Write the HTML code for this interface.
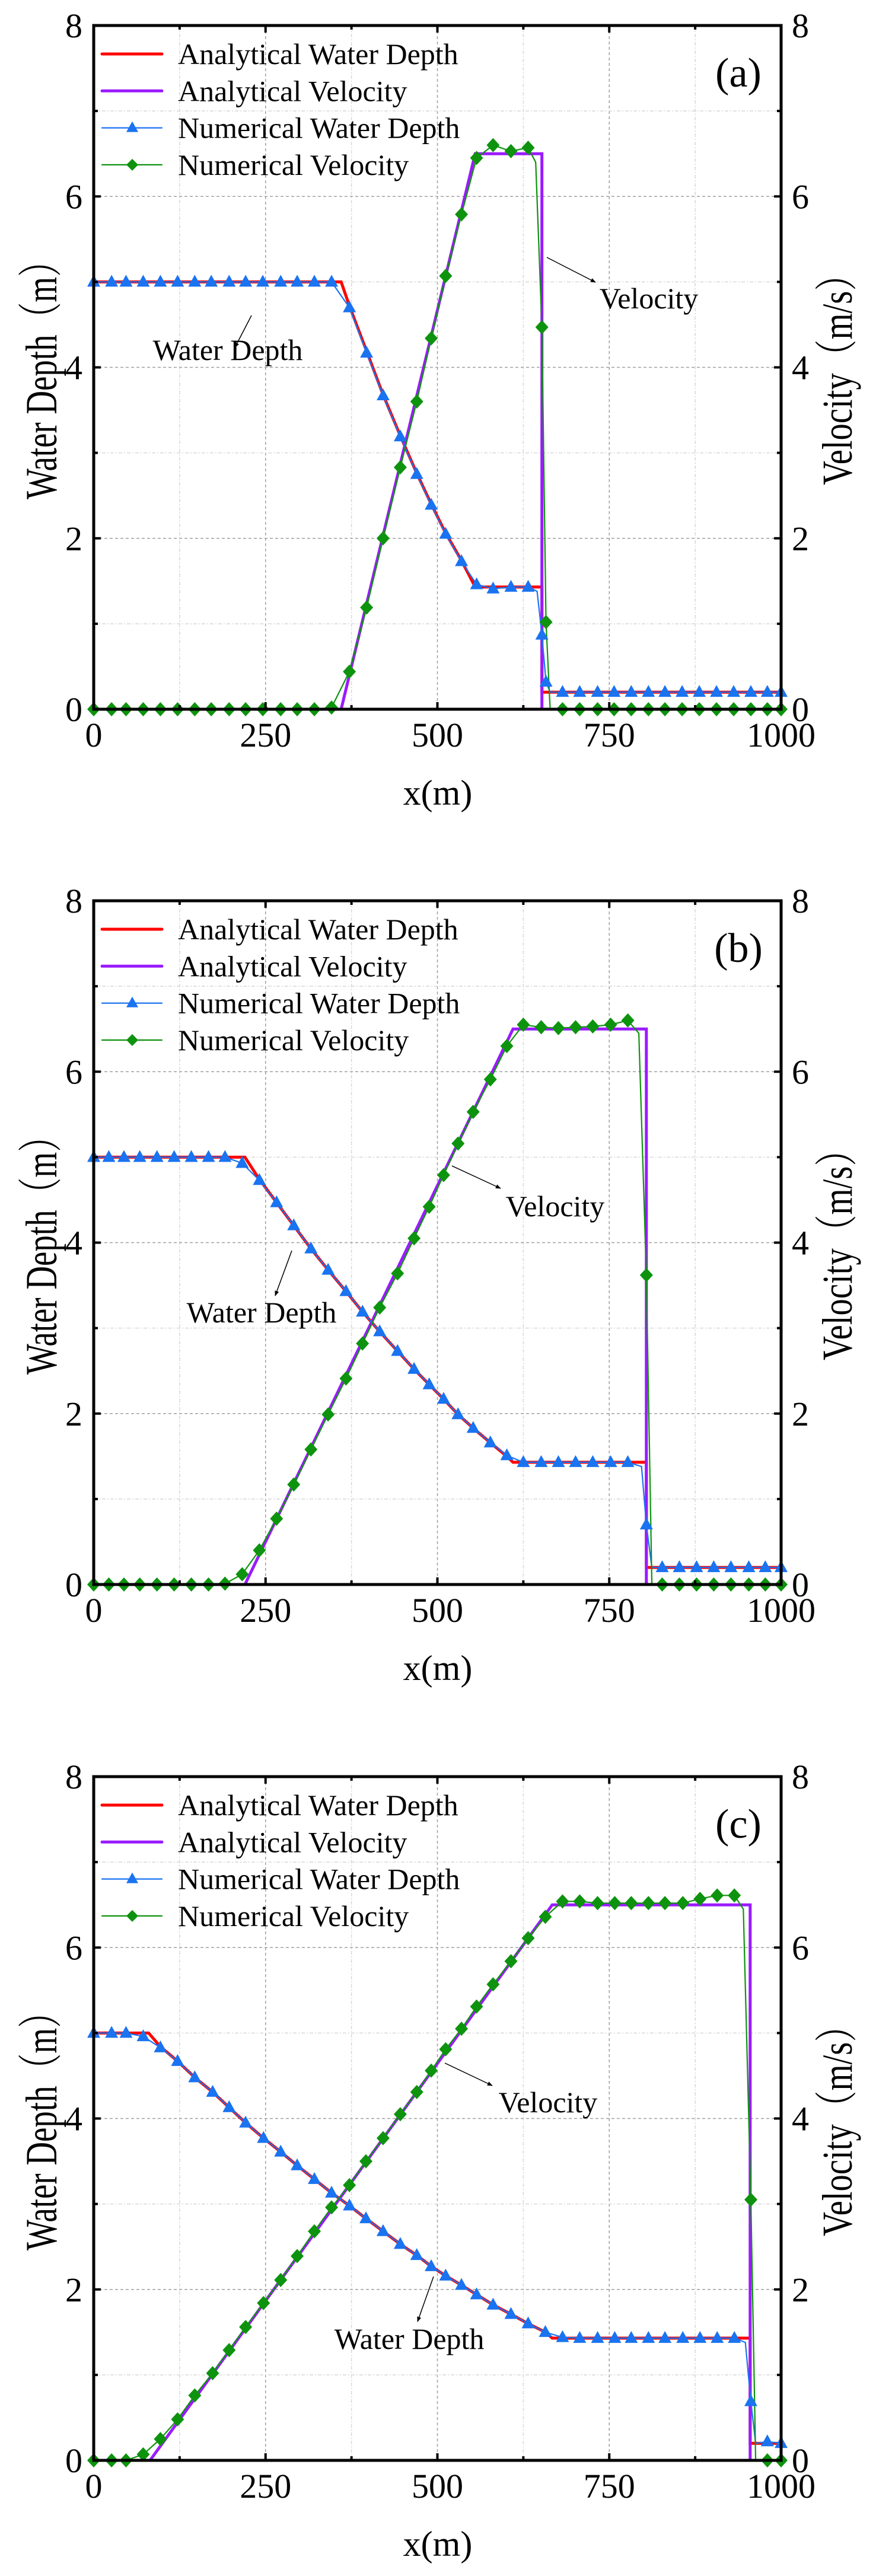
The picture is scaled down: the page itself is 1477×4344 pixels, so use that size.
<!DOCTYPE html>
<html><head><meta charset="utf-8"><style>
html,body{margin:0;padding:0;background:#fff;}
svg{display:block;}
text{font-family:"Liberation Serif","Noto Serif CJK SC",serif;fill:#000;}
</style></head><body>
<svg id="fig" width="1477" height="4344" viewBox="0 0 1477 4344" xmlns="http://www.w3.org/2000/svg">
<defs>
<marker id="ah" viewBox="0 0 10 10" refX="9" refY="5" markerWidth="9" markerHeight="9" orient="auto-start-reverse" markerUnits="userSpaceOnUse"><path d="M0,1 L10,5 L0,9 z" fill="#000"/></marker>
</defs>
</svg>
<script>
// ---- shared axis ticks ----
const xTicks = [0, 250, 500, 750, 1000];
const yTicks = [0, 2, 4, 6, 8];

// ---- panel (a) ----
const aAnaDepthX = [0, 360, 372, 397, 421, 446, 470, 491, 512, 535, 555, 652, 652, 1000];
const aAnaDepthY = [5, 5, 4.72, 4.19, 3.68, 3.2, 2.76, 2.4, 2.06, 1.74, 1.43, 1.43, 0.2, 0.2];
const aAnaVelX = [0, 360, 555, 652, 652, 1000];
const aAnaVelY = [0, 0, 6.5, 6.5, 0, 0];
const aNumX = [0,26,47,72,97,122,147,171,197,221,246,272,296,321,346,372,397,421,446,470,491,512,535,557,581,607,632,652,658,682,707,733,757,782,807,831,856,881,906,931,956,980,1000];
const aNumDepth = [5,5,5,5,5,5,5,5,5,5,5,5,5,5,5,4.70,4.17,3.67,3.19,2.75,2.39,2.05,1.73,1.46,1.41,1.43,1.43,0.87,0.32,0.2,0.2,0.2,0.2,0.2,0.2,0.2,0.2,0.2,0.2,0.2,0.2,0.2,0.2];
const aNumVel = [0,0,0,0,0,0,0,0,0,0,0,0,0,0,0.02,0.44,1.19,2.0,2.83,3.6,4.34,5.07,5.79,6.45,6.6,6.53,6.57,4.47,1.02,0,0,0,0,0,0,0,0,0,0,0,0,0,0];
const aDepthCurveX = [645, 664];
const aDepthCurveY = [1.38, 0.2];
const aVelCurveX = [643, 664];
const aVelCurveY = [6.4, 0];

// ---- panel (b) ----
const bAnaDepthX = [0, 220, 241, 266, 291, 316, 341, 367, 391, 416, 442, 466, 488, 509, 530, 552, 577, 601, 610, 804, 804, 1000];
const bAnaDepthY = [5, 5, 4.74, 4.47, 4.2, 3.93, 3.68, 3.43, 3.19, 2.96, 2.73, 2.52, 2.34, 2.17, 1.99, 1.83, 1.66, 1.5, 1.43, 1.43, 0.2, 0.2];
const bAnaVelX = [0, 220, 610, 804, 804, 1000];
const bAnaVelY = [0, 0, 6.5, 6.5, 0, 0];
const bNumX = [0,22,44,67,92,117,142,167,191,216,241,266,291,316,341,367,391,416,442,466,488,509,530,552,577,601,625,651,676,701,726,752,777,804,827,852,877,902,927,953,977,1000];
const bNumDepth = [5,5,5,5,5,5,5,5,5,4.93,4.73,4.47,4.2,3.93,3.68,3.43,3.19,2.96,2.73,2.52,2.34,2.17,1.99,1.83,1.66,1.51,1.43,1.43,1.43,1.43,1.43,1.43,1.43,0.70,0.2,0.2,0.2,0.2,0.2,0.2,0.2,0.2];
const bNumVel = [0,0,0,0,0,0,0,0,0.01,0.12,0.4,0.77,1.17,1.58,1.99,2.41,2.82,3.24,3.64,4.05,4.42,4.79,5.16,5.53,5.91,6.3,6.55,6.52,6.51,6.52,6.53,6.55,6.6,3.62,0,0,0,0,0,0,0,0];
const bDepthCurveX = [797, 812];
const bDepthCurveY = [1.38, 0.2];
const bVelCurveX = [793, 812];
const bVelCurveY = [6.45, 0];

// ---- panel (c) ----
const cAnaDepthX = [0, 80, 97, 122, 147, 173, 197, 221, 247, 272, 296, 321, 346, 372, 396, 421, 446, 470, 491, 512, 535, 557, 581, 607, 632, 657, 667, 955, 955, 1000];
const cAnaDepthY = [5, 5, 4.84, 4.67, 4.48, 4.31, 4.13, 3.95, 3.77, 3.61, 3.45, 3.29, 3.13, 2.98, 2.83, 2.68, 2.53, 2.4, 2.27, 2.16, 2.05, 1.94, 1.82, 1.71, 1.6, 1.5, 1.43, 1.43, 0.2, 0.2];
const cAnaVelX = [0, 82, 667, 955, 955, 1000];
const cAnaVelY = [0, 0, 6.5, 6.5, 0, 0];
const cNumX = [0,26,47,72,97,122,147,173,197,221,247,272,296,321,346,372,396,421,446,470,491,512,535,557,581,607,632,657,682,707,733,758,782,807,831,857,882,907,932,956,980,1000];
const cNumDepth = [5,5,5,4.96,4.83,4.67,4.48,4.31,4.13,3.95,3.77,3.61,3.45,3.29,3.13,2.98,2.83,2.68,2.53,2.4,2.27,2.16,2.05,1.94,1.82,1.71,1.6,1.5,1.44,1.43,1.43,1.43,1.43,1.43,1.43,1.43,1.43,1.43,1.43,0.69,0.22,0.2];
const cNumVel = [0,0,0,0.07,0.25,0.48,0.76,1.02,1.29,1.56,1.84,2.11,2.39,2.68,2.96,3.22,3.5,3.77,4.05,4.31,4.56,4.81,5.05,5.31,5.57,5.84,6.11,6.36,6.54,6.54,6.52,6.52,6.52,6.52,6.52,6.52,6.57,6.61,6.61,3.05,0,0];
const cDepthCurveX = [948, 963];
const cDepthCurveY = [1.38, 0.2];
const cVelCurveX = [945, 963];
const cVelCurveY = [6.45, 0];

const legendLabels = ["Analytical Water Depth","Analytical Velocity","Numerical Water Depth","Numerical Velocity"];

const NS = "http://www.w3.org/2000/svg";
const svg = document.getElementById("fig");
const PL = 158, PW = 1159, PH = 1153;
const RED = "#ff0000", PUR = "#9a1bff", BLUE = "#1a73f0", GREEN = "#0e930e";

function mk(tag, attrs, parent) {
  const e = document.createElementNS(NS, tag);
  for (const k in attrs) e.setAttribute(k, attrs[k]);
  (parent || svg).appendChild(e);
  return e;
}

function merge(xs, ys, ex, ey) {
  const arr = xs.map((x, i) => [x, ys[i], 0]);
  ex.forEach((x, i) => arr.push([x, ey[i], 1]));
  arr.sort((a, b) => a[0] - b[0] || a[2] - b[2]);
  return arr;
}

function panel(cfg) {
  const top = cfg.top;
  const g = mk("g", {});
  
  
  const sx = v => PL + v / 1000 * PW;
  const sy = v => top + PH - v / 8 * PH;

  // grid
  const grid = mk("g", {}, g);
  
  
  for (let v = 125; v < 1000; v += 125) {
    const major = v % 250 === 0;
    mk("line", {x1: sx(v), x2: sx(v), y1: top, y2: top + PH, stroke: major ? "#a0a0a0" : "#d8d8d8", "stroke-width": 1.5, "stroke-dasharray": major ? "5,4" : "6,3,2,3"}, grid);
  }
  for (let v = 1; v < 8; v++) {
    const major = v % 2 === 0;
    mk("line", {x1: PL, x2: PL + PW, y1: sy(v), y2: sy(v), stroke: major ? "#a0a0a0" : "#d8d8d8", "stroke-width": 1.5, "stroke-dasharray": major ? "5,4" : "6,3,2,3"}, grid);
  }

  // series
  const pts = (xs, ys) => xs.map((x, i) => sx(x).toFixed(1) + "," + sy(ys[i]).toFixed(1)).join(" ");
  const ptsM = arr => arr.map(p => sx(p[0]).toFixed(1) + "," + sy(p[1]).toFixed(1)).join(" ");
  const ad = mk("polyline", {points: pts(cfg.adx, cfg.ady), fill: "none", stroke: RED, "stroke-width": 5}, g);
  
  
  const av = mk("polyline", {points: pts(cfg.avx, cfg.avy), fill: "none", stroke: PUR, "stroke-width": 5}, g);
  
  
  const nd = mk("polyline", {points: ptsM(merge(cfg.nx, cfg.nd, cfg.dcx, cfg.dcy)), fill: "none", stroke: BLUE, "stroke-width": 2.2}, g);
  
  
  const nv = mk("polyline", {points: ptsM(merge(cfg.nx, cfg.nv, cfg.vcx, cfg.vcy)), fill: "none", stroke: GREEN, "stroke-width": 2.2}, g);
  
  
  cfg.nx.forEach((x, i) => {
    const cx = sx(x), cy = sy(cfg.nd[i]);
    const t = mk("polygon", {points: `${cx},${cy - 12} ${cx - 11},${cy + 8} ${cx + 11},${cy + 8}`, fill: BLUE}, g);
    
    
  });
  cfg.nx.forEach((x, i) => {
    const cx = sx(x), cy = sy(cfg.nv[i]);
    const d = mk("polygon", {points: `${cx},${cy - 12} ${cx + 11},${cy} ${cx},${cy + 12} ${cx - 11},${cy}`, fill: GREEN}, g);
    
    
  });

  // frame and ticks
  const fr = mk("rect", {x: PL, y: top, width: PW, height: PH, fill: "none", stroke: "#000", "stroke-width": 5}, g);
  
  
  for (let v = 0; v <= 1000; v += 125) {
    const L = v % 250 === 0 ? 12 : 7;
    mk("line", {x1: sx(v), x2: sx(v), y1: top + PH, y2: top + PH - L, stroke: "#000", "stroke-width": 4}, g);
    mk("line", {x1: sx(v), x2: sx(v), y1: top, y2: top + L, stroke: "#000", "stroke-width": 4}, g);
  }
  for (let v = 0; v <= 8; v++) {
    const L = v % 2 === 0 ? 12 : 7;
    mk("line", {x1: PL, x2: PL + L, y1: sy(v), y2: sy(v), stroke: "#000", "stroke-width": 4}, g);
    mk("line", {x1: PL + PW, x2: PL + PW - L, y1: sy(v), y2: sy(v), stroke: "#000", "stroke-width": 4}, g);
  }
  xTicks.forEach(v => {
    const t = mk("text", {x: sx(v), y: top + PH + 63, "font-size": 58, "text-anchor": "middle"}, g);
    t.textContent = v;
    
    
  });
  yTicks.forEach(v => {
    const t = mk("text", {x: 139, y: sy(v) + 20, "font-size": 58, "text-anchor": "end"}, g);
    t.textContent = v;
    
    
    const r = mk("text", {x: 1335, y: sy(v) + 20, "font-size": 58}, g);
    r.textContent = v;
    
    
  });

  // axis titles
  const xl = mk("text", {x: 738, y: top + PH + 161, "font-size": 60, "text-anchor": "middle"}, g);
  xl.textContent = "x(m)";
  
  
  const ylg = mk("g", {transform: `translate(95,${top + 584}) rotate(-90) scale(1,1.3)`}, g);
  const yl = mk("text", {x: 0, y: 0, "font-size": 58, "text-anchor": "middle", textLength: 430, lengthAdjust: "spacingAndGlyphs"}, ylg);
  yl.textContent = "Water Depth（m）";
  
  
  const yrg = mk("g", {transform: `translate(1436,${top + 583}) rotate(-90) scale(1,1.25)`}, g);
  const yr = mk("text", {x: 0, y: 0, "font-size": 58, "text-anchor": "middle", textLength: 384, lengthAdjust: "spacingAndGlyphs"}, yrg);
  yr.textContent = "Velocity（m/s）";
  
  

  // panel label
  const pl = mk("text", {x: 1245, y: top + 103, "font-size": 70, "text-anchor": "middle"}, g);
  pl.textContent = "(" + cfg.tag + ")";
  
  

  // legend
  const lg = mk("g", {}, g);
  
  
  const cols = [RED, PUR, BLUE, GREEN];
  legendLabels.forEach((lab, i) => {
    const y = top + 48 + i * 62.3;
    const e = mk("g", {}, lg);
    
    
    mk("line", {x1: 172, x2: 273, y1: y, y2: y, stroke: cols[i], "stroke-width": i < 2 ? 5 : 2.2, "stroke-linecap": "round"}, e);
    if (i === 2) mk("polygon", {points: `223,${y - 11} 213,${y + 7} 233,${y + 7}`, fill: BLUE}, e);
    if (i === 3) mk("polygon", {points: `223,${y - 10} 233,${y} 223,${y + 10} 213,${y}`, fill: GREEN}, e);
    const t = mk("text", {x: 300, y: y + 17, "font-size": 50}, e);
    t.textContent = lab;
  });

  // annotations
  const an = cfg.ann;
  const wl = mk("line", {x1: an.w[0], y1: top + an.w[1], x2: an.w[2], y2: top + an.w[3], stroke: "#000", "stroke-width": 1.5, "marker-end": "url(#ah)"}, g);
  
  
  const wt = mk("text", {x: an.wt[0], y: top + an.wt[1], "font-size": 50, "text-anchor": "middle"}, g);
  wt.textContent = "Water Depth";
  
  
  const vl = mk("line", {x1: an.v[0], y1: top + an.v[1], x2: an.v[2], y2: top + an.v[3], stroke: "#000", "stroke-width": 1.5, "marker-end": "url(#ah)"}, g);
  
  
  const vt = mk("text", {x: an.vt[0], y: top + an.vt[1], "font-size": 50, "text-anchor": "middle"}, g);
  vt.textContent = "Velocity";
  
  
}

panel({tag: "a", top: 43, adx: aAnaDepthX, ady: aAnaDepthY, avx: aAnaVelX, avy: aAnaVelY, nx: aNumX, nd: aNumDepth, nv: aNumVel,
  dcx: aDepthCurveX, dcy: aDepthCurveY, vcx: aVelCurveX, vcy: aVelCurveY,
  ann: {w: [424, 489, 396, 543], wt: [384, 564], v: [922, 391, 1004, 433], vt: [1094, 477]}});
panel({tag: "b", top: 1519, adx: bAnaDepthX, ady: bAnaDepthY, avx: bAnaVelX, avy: bAnaVelY, nx: bNumX, nd: bNumDepth, nv: bNumVel,
  dcx: bDepthCurveX, dcy: bDepthCurveY, vcx: bVelCurveX, vcy: bVelCurveY,
  ann: {w: [492, 590, 464, 666], wt: [441, 711], v: [762, 447, 844, 485], vt: [936, 532]}});
panel({tag: "c", top: 2996, adx: cAnaDepthX, ady: cAnaDepthY, avx: cAnaVelX, avy: cAnaVelY, nx: cNumX, nd: cNumDepth, nv: cNumVel,
  dcx: cDepthCurveX, dcy: cDepthCurveY, vcx: cVelCurveX, vcy: cVelCurveY,
  ann: {w: [731, 843, 704, 919], wt: [690, 965], v: [750, 483, 830, 521], vt: [924, 566]}});
</script>
</body></html>
